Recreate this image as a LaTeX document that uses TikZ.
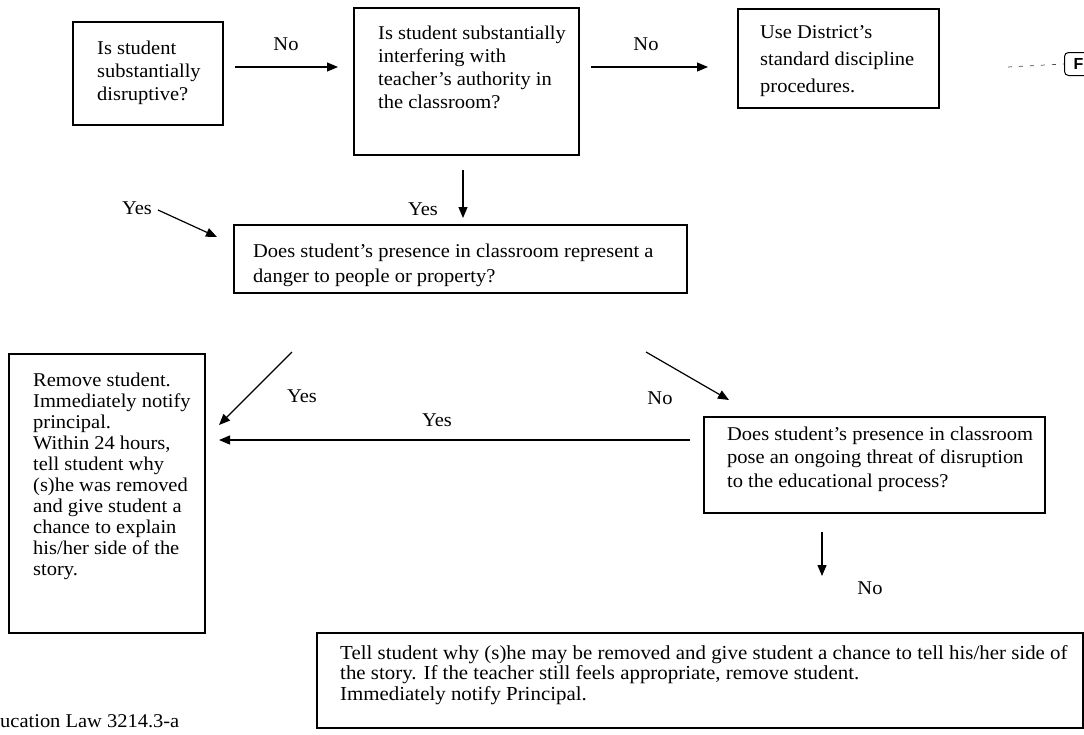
\documentclass[tikz,border=0pt]{standalone}
\usepackage{fontspec}
\setmainfont{Liberation Serif}[FakeStretch=1.05]
\setsansfont{Liberation Sans}
\usetikzlibrary{arrows.meta}
\newcommand{\tfs}[1]{\fontsize{19.5}{#1}\selectfont}
\begin{document}
\begin{tikzpicture}[x=1pt,y=-1pt,
  box/.style={draw, line width=1.5pt, rectangle, anchor=north west, inner sep=0pt},
  txt/.style={anchor=base west, align=left, inner sep=0pt},
  lbl/.style={inner sep=0pt, font=\tfs{23}},
  arr/.style={line width=1.2pt, -{Triangle[length=11pt,width=9pt]}}]
\useasboundingbox (0,0) rectangle (1084,734);
\clip (0,0) rectangle (1084,734);
% boxes
\node[box, minimum width=150pt, minimum height=103pt] (A) at (72,21) {};
\node[box, minimum width=225pt, minimum height=147pt] (B) at (353,7) {};
\node[box, minimum width=201pt, minimum height=99pt] (C) at (737,8) {};
\node[box, minimum width=453pt, minimum height=68pt] (D) at (233,224) {};
\node[box, minimum width=196pt, minimum height=279pt] (E) at (8,353) {};
\node[box, minimum width=341pt, minimum height=96pt] (F) at (703,416) {};
\node[box, minimum width=766pt, minimum height=95pt] (G) at (316,632) {};
% texts (base anchor = baseline of the last line)
\node[txt, font=\tfs{23}] (At) at (97,100) {Is student\\substantially\\disruptive?};
\node[txt, font=\tfs{22.7}] (Bt) at (378,108) {Is student substantially\\interfering with\\teacher's authority in\\the classroom?};
\node[txt, font=\tfs{27}] (Ct) at (760,92) {Use District's\\standard discipline\\procedures.};
\node[txt, font=\tfs{25}] (Dt) at (253,282) {Does student's presence in classroom represent a\\danger to people or property?};
\node[txt, font=\tfs{20.9}] (Et) at (33,575) {Remove student.\\Immediately notify\\principal.\\Within 24 hours,\\tell student why\\(s)he was removed\\and give student a\\chance to explain\\his/her side of the\\story.};
\node[txt, font=\tfs{23.5}] (Ft) at (727,487) {Does student's presence in classroom\\pose an ongoing threat of disruption\\to the educational process?};
\node[txt, font={\fontsize{19.9}{20.3}\selectfont}] (Gt) at (340,700) {Tell student why (s)he may be removed and give student a chance to tell his/her side of\\the story. If the teacher still feels appropriate, remove student.\\Immediately notify Principal.};
\node[txt, font=\tfs{20}] (foot) at (0,727) {ucation Law 3214.3-a};
% partial comment balloon at top right
\node[draw, line width=1pt, rounded corners=4pt, anchor=west, inner xsep=9pt, minimum height=23pt,
      font=\sffamily\bfseries\fontsize{16}{18}\selectfont] (Fb) at (1064,64) {F\hspace{20pt}};
\coordinate (dashs) at (1008,67);
\draw[line width=0.7pt, dash pattern=on 4pt off 7pt, black!70] (dashs) -- (Fb.west);
% arrow end points
\coordinate (a1) at (235,67);  \coordinate (a2) at (338,67);
\coordinate (b1) at (591,67);  \coordinate (b2) at (708,67);
\coordinate (c1) at (463,170); \coordinate (c2) at (463,218);
\coordinate (y1) at (158,210); \coordinate (y2) at (217,237);
\coordinate (d1) at (292,352); \coordinate (d2) at (219,425);
\coordinate (n1) at (646,352); \coordinate (n2) at (729,400);
\coordinate (h1) at (690,440); \coordinate (h2) at (219,440);
\coordinate (f1) at (822,532); \coordinate (f2) at (822,576);
\draw[arr] (a1) -- (a2);
\draw[arr] (b1) -- (b2);
\draw[arr] (c1) -- (c2);
\draw[arr] (y1) -- (y2);
\draw[arr] (d1) -- (d2);
\draw[arr] (n1) -- (n2);
\draw[arr] (h1) -- (h2);
\draw[arr] (f1) -- (f2);
% labels
\node[lbl] (l1) at (286,44) {No};
\node[lbl] (l2) at (646,44) {No};
\node[lbl] (l3) at (423,209) {Yes};
\node[lbl] (l4) at (137,208) {Yes};
\node[lbl] (l5) at (302,396) {Yes};
\node[lbl] (l6) at (660,398) {No};
\node[lbl] (l7) at (437,420) {Yes};
\node[lbl] (l8) at (870,588) {No};
\end{tikzpicture}
\end{document}
